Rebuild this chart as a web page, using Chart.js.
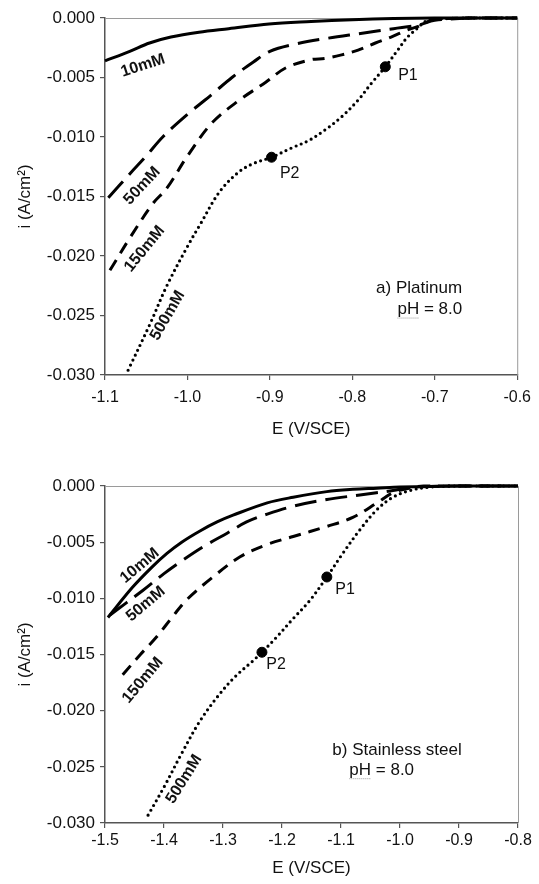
<!DOCTYPE html>
<html>
<head>
<meta charset="utf-8">
<script src="https://cdn.jsdelivr.net/npm/chart.js@4.4.1/dist/chart.umd.min.js"></script>
<style>
    body { margin: 0; background: #fff; }
    .caja { position: absolute; left: 0; width: 539px; height: 442px; }
</style>
</head>
<body>
<div class="caja" style="top:0"><canvas id="graficaPt" width="539" height="442"></canvas></div>
<div class="caja" style="top:442px"><canvas id="graficaAcero" width="539" height="442"></canvas></div>
<script>
        // Datos leídos de la figura a) Platino (E en V/SCE, i en A/cm2)
        var ptE10 = [-1.1, -1.07, -1.046, -1.02, -0.986, -0.95, -0.901, -0.85, -0.8, -0.75, -0.7, -0.65, -0.6];
        var ptI10 = [-0.0036, -0.0028, -0.0021, -0.0016, -0.0012, -0.0009, -0.0005, -0.0003, -0.00015, -0.00005, 0, 0, 0];
        var ptE50 = [-1.096, -1.07, -1.05, -1.03, -1.0, -0.97, -0.946, -0.92, -0.9, -0.87, -0.83, -0.79, -0.75, -0.72, -0.70, -0.65, -0.6];
        var ptI50 = [-0.0151, -0.0131, -0.0116, -0.0100, -0.0081, -0.0064, -0.0050, -0.0037, -0.0028, -0.0022, -0.0017, -0.0013, -0.0009, -0.0006, -0.0002, 0, 0];
        var ptE150 = [-1.094, -1.07, -1.042, -1.025, -1.0, -0.97, -0.937, -0.905, -0.881, -0.85, -0.833, -0.813, -0.793, -0.772, -0.753, -0.733, -0.72, -0.70, -0.65, -0.6];
        var ptI150 = [-0.0212, -0.0185, -0.0156, -0.0143, -0.0116, -0.0088, -0.0069, -0.0054, -0.0042, -0.0035, -0.0034, -0.0031, -0.0027, -0.0021, -0.0016, -0.0010, -0.0007, -0.0001, 0, 0];
        var ptE500 = [-1.072, -1.046, -1.025, -1.0, -0.985, -0.961, -0.937, -0.919, -0.898, -0.873, -0.853, -0.833, -0.813, -0.793, -0.777, -0.76, -0.745, -0.733, -0.72, -0.712, -0.70, -0.65, -0.6];
        var ptI500 = [-0.0296, -0.0258, -0.0225, -0.0192, -0.0174, -0.0146, -0.0129, -0.0122, -0.0117, -0.0109, -0.0103, -0.0094, -0.0083, -0.0069, -0.0055, -0.0041, -0.0027, -0.0016, -0.0008, -0.0003, -0.0001, 0, 0];
        var ptMarcasE = [-0.898, -0.760];
        var ptMarcasI = [-0.0117, -0.0041];
        var ptTicksE = [-1.1, -1.0, -0.9, -0.8, -0.7, -0.6];

        // Datos leídos de la figura b) Acero inoxidable
        var acE10 = [-1.495, -1.453, -1.42, -1.395, -1.37, -1.339, -1.31, -1.283, -1.225, -1.181, -1.124, -1.08, -1.039, -1.0, -0.9, -0.8];
        var acI10 = [-0.0117, -0.0090, -0.0072, -0.0060, -0.0050, -0.0040, -0.0032, -0.0026, -0.0015, -0.0010, -0.0005, -0.0003, -0.0002, -0.0001, 0, 0];
        var acE50 = [-1.492, -1.436, -1.40, -1.368, -1.33, -1.293, -1.26, -1.225, -1.181, -1.124, -1.068, -1.012, -0.98, -0.9, -0.8];
        var acI50 = [-0.0115, -0.0093, -0.0078, -0.0066, -0.0053, -0.0042, -0.0032, -0.0025, -0.0018, -0.0012, -0.0008, -0.0004, -0.0001, 0, 0];
        var acE150 = [-1.47, -1.44, -1.412, -1.385, -1.361, -1.317, -1.271, -1.225, -1.181, -1.124, -1.08, -1.039, -1.012, -0.985, -0.96, -0.9, -0.8];
        var acI150 = [-0.0168, -0.0150, -0.0134, -0.0116, -0.0101, -0.0081, -0.0063, -0.0052, -0.0045, -0.0036, -0.0028, -0.0015, -0.0006, -0.0002, 0, 0, 0];
        var acE500 = [-1.427, -1.40, -1.37, -1.34, -1.31, -1.28, -1.25, -1.234, -1.21, -1.181, -1.153, -1.124, -1.097, -1.068, -1.039, -1.012, -0.983, -0.95, -0.9, -0.8];
        var acI500 = [-0.0293, -0.0268, -0.0238, -0.0210, -0.0188, -0.0170, -0.0156, -0.0148, -0.0135, -0.0118, -0.0102, -0.0081, -0.0060, -0.0039, -0.0021, -0.0010, -0.0004, -0.0001, 0, 0];
        var acMarcasE = [-1.234, -1.124];
        var acMarcasI = [-0.0148, -0.0081];
        var acTicksE = [-1.5, -1.4, -1.3, -1.2, -1.1, -1.0, -0.9, -0.8];

        var ticksI = [0, -0.005, -0.010, -0.015, -0.020, -0.025, -0.030];
        var concentraciones = ['10mM', '50mM', '150mM', '500mM'];

        var fuente = "'Liberation Sans', Arial, sans-serif";

        // Función para unir dos listas en puntos {x, y}
        function puntos(listaE, listaI) {
            return listaE.map(function (e, k) { return { x: e, y: listaI[k] }; });
        }

        // Función para armar los cuatro trazos y los puntos P1, P2
        function armarDatasets(series, marcasE, marcasI) {
            var guiones = [[], [22, 9], [12, 8], [0, 5.5]];
            var datasets = series.map(function (s, k) {
                return {
                    label: concentraciones[k],
                    data: puntos(s[0], s[1]),
                    borderColor: '#000',
                    borderWidth: k === 3 ? 3.2 : 3,
                    borderDash: guiones[k],
                    borderCapStyle: k === 3 ? 'round' : 'butt',
                    tension: 0.35,
                    pointRadius: 0,
                    fill: false,
                    clip: 5
                };
            });
            datasets.push({
                label: 'P',
                data: puntos(marcasE, marcasI),
                showLine: false,
                pointRadius: 5,
                pointBackgroundColor: '#000',
                pointBorderColor: '#000',
                clip: 8
            });
            return datasets;
        }

        // Plugin para textos dentro del área (etiquetas de curvas, P1, P2, material)
        var pluginTextos = {
            id: 'textos',
            afterDatasetsDraw: function (chart, args, opts) {
                var ctx = chart.ctx;
                var sx = chart.scales.x, sy = chart.scales.y;
                opts.items.forEach(function (t) {
                    ctx.save();
                    ctx.translate(sx.getPixelForValue(t.e), sy.getPixelForValue(t.i));
                    ctx.rotate((t.ang || 0) * Math.PI / 180);
                    ctx.font = t.font;
                    ctx.fillStyle = '#111';
                    ctx.textAlign = 'center';
                    ctx.textBaseline = 'middle';
                    ctx.fillText(t.texto, 0, 0);
                    if (t.subrayar) {
                        // subrayado punteado bajo "pH", como en la figura
                        var ancho = ctx.measureText(t.texto).width;
                        var anchoPH = ctx.measureText('pH').width;
                        ctx.strokeStyle = '#999';
                        ctx.lineWidth = 1;
                        ctx.setLineDash([1, 1]);
                        ctx.beginPath();
                        ctx.moveTo(-ancho / 2, 8.5);
                        ctx.lineTo(-ancho / 2 + anchoPH, 8.5);
                        ctx.stroke();
                    }
                    ctx.restore();
                });
            }
        };

        // Plugin para el marco gris superior y derecho
        var pluginMarco = {
            id: 'marco',
            beforeDatasetsDraw: function (chart) {
                var a = chart.chartArea, ctx = chart.ctx;
                ctx.save();
                ctx.strokeStyle = '#9a9a9a';
                ctx.lineWidth = 1;
                ctx.beginPath();
                ctx.moveTo(a.left, a.top + 0.5);
                ctx.lineTo(a.right + 0.5, a.top + 0.5);
                ctx.lineTo(a.right + 0.5, a.bottom);
                ctx.stroke();
                ctx.restore();
            }
        };

        // Función para crear cada gráfica
        function crearGrafica(id, cfg) {
            var ctx = document.getElementById(id).getContext('2d');
            return new Chart(ctx, {
                type: 'line',
                data: { datasets: armarDatasets(cfg.series, cfg.marcasE, cfg.marcasI) },
                plugins: [pluginMarco, pluginTextos],
                options: {
                    responsive: false,
                    animation: false,
                    layout: { padding: { left: 0, top: cfg.arriba, right: cfg.derecha, bottom: 0 } },
                    plugins: {
                        legend: { display: false },
                        tooltip: { enabled: false },
                        textos: { items: cfg.textos }
                    },
                    scales: {
                        x: {
                            type: 'linear',
                            min: cfg.ticksE[0],
                            max: cfg.ticksE[cfg.ticksE.length - 1],
                            afterBuildTicks: function (s) { s.ticks = cfg.ticksE.map(function (v) { return { value: v }; }); },
                            afterFit: function (s) { s.height = cfg.altoX; },
                            grid: { drawOnChartArea: false, tickLength: 5, tickColor: '#555', lineWidth: 1.2 },
                            border: { color: '#555', width: 1.5 },
                            ticks: {
                                font: { family: fuente, size: 16 }, color: '#111', padding: cfg.padX,
                                maxRotation: 0, autoSkip: false,
                                callback: function (v) { return v.toFixed(1); }
                            },
                            title: {
                                display: true, text: 'E (V/SCE)', color: '#111',
                                font: { family: fuente, size: 17 }, padding: { top: 0, bottom: cfg.padTitulo }
                            }
                        },
                        y: {
                            min: -0.03,
                            max: 0,
                            afterBuildTicks: function (s) { s.ticks = ticksI.map(function (v) { return { value: v }; }); },
                            afterFit: function (s) { s.width = 105; },
                            grid: { drawOnChartArea: false, tickLength: 5, tickColor: '#555', lineWidth: 1.2 },
                            border: { color: '#555', width: 1.5 },
                            ticks: {
                                font: { family: fuente, size: 17 }, color: '#111', padding: 5,
                                callback: function (v) { return Math.abs(v) < 1e-9 ? '0.000' : v.toFixed(3); }
                            },
                            title: {
                                display: true, text: 'i (A/cm²)', color: '#111',
                                font: { family: fuente, size: 17 }, padding: { top: 15, bottom: 0 }
                            }
                        }
                    }
                }
            });
        }

        var negrita = 'bold 16px ' + fuente;
        var normal = '16px ' + fuente;
        var titulo = '17px ' + fuente;

        crearGrafica('graficaPt', {
            series: [[ptE10, ptI10], [ptE50, ptI50], [ptE150, ptI150], [ptE500, ptI500]],
            marcasE: ptMarcasE, marcasI: ptMarcasI, ticksE: ptTicksE,
            arriba: 18, derecha: 19, altoX: 67, padX: 8, padTitulo: 2,
            textos: [
                { texto: '10mM', e: -1.054, i: -0.0040, ang: -18, font: negrita },
                { texto: '50mM', e: -1.055, i: -0.0141, ang: -47, font: negrita },
                { texto: '150mM', e: -1.052, i: -0.0194, ang: -51, font: negrita },
                { texto: '500mM', e: -1.024, i: -0.0250, ang: -60, font: negrita },
                { texto: 'P1', e: -0.7325, i: -0.0048, font: normal },
                { texto: 'P2', e: -0.876, i: -0.0131, font: normal },
                { texto: 'a) Platinum', e: -0.719, i: -0.0227, font: titulo },
                { texto: 'pH = 8.0', e: -0.706, i: -0.0245, font: titulo, subrayar: true }
            ]
        });

        crearGrafica('graficaAcero', {
            series: [[acE10, acI10], [acE50, acI50], [acE150, acI150], [acE500, acI500]],
            marcasE: acMarcasE, marcasI: acMarcasI, ticksE: acTicksE,
            arriba: 44, derecha: 21, altoX: 61, padX: 3, padTitulo: 5,
            textos: [
                { texto: '10mM', e: -1.441, i: -0.0071, ang: -40, font: negrita },
                { texto: '50mM', e: -1.431, i: -0.0105, ang: -40, font: negrita },
                { texto: '150mM', e: -1.436, i: -0.0173, ang: -50, font: negrita },
                { texto: '500mM', e: -1.366, i: -0.0261, ang: -58, font: negrita },
                { texto: 'P1', e: -1.093, i: -0.0092, font: normal },
                { texto: 'P2', e: -1.210, i: -0.0159, font: normal },
                { texto: 'b) Stainless steel', e: -1.005, i: -0.0235, font: titulo },
                { texto: 'pH = 8.0', e: -1.031, i: -0.0253, font: titulo, subrayar: true }
            ]
        });
</script>
</body>
</html>
